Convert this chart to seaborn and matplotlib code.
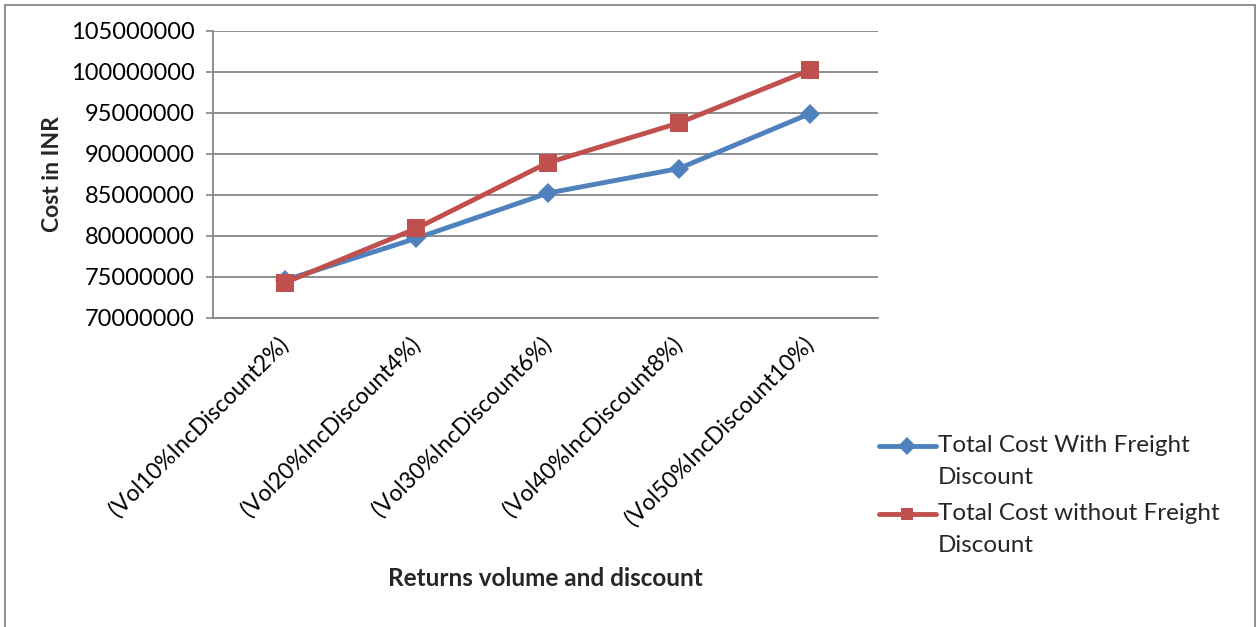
import matplotlib
matplotlib.use("Agg")
import matplotlib.pyplot as plt
import seaborn as sns
import pandas as pd
from matplotlib.patches import Rectangle
from matplotlib.ticker import MultipleLocator, StrMethodFormatter
from matplotlib.legend_handler import HandlerLine2D

# chart data
categories = ["(Vol10%IncDiscount2%)", "(Vol20%IncDiscount4%)", "(Vol30%IncDiscount6%)",
              "(Vol40%IncDiscount8%)", "(Vol50%IncDiscount10%)"]
with_discount = [74600000, 79700000, 85200000, 88200000, 94900000]
without_discount = [74300000, 80900000, 88900000, 93750000, 100200000]
series_names = ["Total Cost With Freight\nDiscount", "Total Cost without Freight\nDiscount"]

df = pd.concat([
    pd.DataFrame({"category": categories, "cost": with_discount, "series": series_names[0]}),
    pd.DataFrame({"category": categories, "cost": without_discount, "series": series_names[1]}),
])


class TopLineHandler(HandlerLine2D):
    """legend handle lined up with the first text line (Excel style)"""
    def __init__(self, shift=11.5, **kw):
        super().__init__(**kw)
        self.shift = shift

    def create_artists(self, legend, orig_handle, xdescent, ydescent, width, height, fontsize, trans):
        artists = super().create_artists(legend, orig_handle, xdescent, ydescent,
                                         width, height, fontsize, trans)
        for a in artists:
            a.set_ydata([y + self.shift for y in a.get_ydata()])
        return artists


sns.set_style("white")
plt.rcParams["font.family"] = ["Lato", "DejaVu Sans"]

fig = plt.figure(figsize=(12.6, 6.27), dpi=100)
ax = fig.add_axes([0.169, 0.493, 0.528, 0.458])

palette = {series_names[0]: "#4F81BD", series_names[1]: "#C0504D"}
markers = {series_names[0]: "D", series_names[1]: "s"}
sns.lineplot(data=df, x="category", y="cost", hue="series", style="series",
             palette=palette, markers=markers, dashes=False, sort=False,
             linewidth=3.5, markersize=11, markeredgewidth=0, ax=ax, legend=True)
# square marker a bit bigger than diamond
ax.lines[1].set_markersize(13.5)
ax.lines[0].set_markersize(10.5)

ax.set_ylim(70000000, 105000000)
ax.set_xlim(-0.55, 4.52)
ax.yaxis.set_major_locator(MultipleLocator(5000000))
ax.yaxis.set_major_formatter(StrMethodFormatter("{x:.0f}"))
ax.yaxis.grid(True, color="#868686", linewidth=1.3)
ax.xaxis.grid(False)
for side in ["top", "right"]:
    ax.spines[side].set_visible(False)
for side in ["left", "bottom"]:
    ax.spines[side].set_color("#868686")
    ax.spines[side].set_linewidth(1.3)

ax.tick_params(axis="y", which="major", left=True, length=5, width=1.2, color="#868686",
               labelsize=17, pad=8, labelcolor="black")
ax.tick_params(axis="x", bottom=False, labelsize=16.5, pad=13, labelcolor="black")
plt.setp(ax.get_xticklabels(), rotation=45, ha="right", va="center", rotation_mode="anchor")

ax.set_xlabel("Returns volume and discount", fontsize=17.5, fontweight="bold", labelpad=0)
ax.xaxis.set_label_coords(0.5, -0.869)
ax.set_ylabel("Cost in INR", fontsize=16.5, fontweight="bold")
ax.yaxis.set_label_coords(-0.2255, 0.5)

handles, labels = ax.get_legend_handles_labels()
ax.get_legend().remove()
leg = fig.legend(handles, labels, loc="upper left", bbox_to_anchor=(0.68, 0.341),
                 frameon=False, fontsize=17.5, handlelength=2.35, handletextpad=0.1,
                 labelspacing=0.62, markerscale=0.85,
                 handler_map={h: TopLineHandler() for h in handles})
for t in leg.get_texts():
    t.set_linespacing(1.65)

# outer chart border
fig.patches.append(Rectangle((0.004, -0.01), 0.992, 1.002, transform=fig.transFigure,
                             fill=False, edgecolor="#868686", linewidth=1.3))

fig.savefig("out.png", dpi=100)
